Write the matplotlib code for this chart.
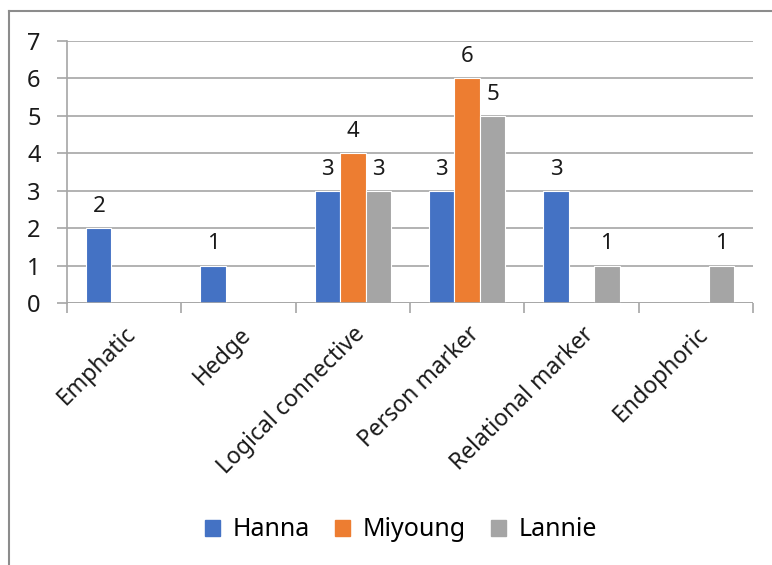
import matplotlib
matplotlib.use("Agg")
import matplotlib.pyplot as plt
import numpy as np
from matplotlib.lines import Line2D

plt.rcParams['font.family'] = ['Noto Sans', 'DejaVu Sans']

categories = ["Emphatic", "Hedge", "Logical connective", "Person marker",
              "Relational marker", "Endophoric"]
series_names = ["Hanna", "Miyoung", "Lannie"]
hanna = [2, 1, 3, 3, 3, 0]
miyoung = [0, 0, 4, 6, 0, 0]
lannie = [0, 0, 3, 5, 1, 1]
colors = ["#4472C4", "#ED7D31", "#A5A5A5"]

fig = plt.figure(figsize=(7.72, 5.65), dpi=100)
W, H = 772, 565
ax = fig.add_axes([67 / W, 1 - 303 / H, (753 - 67) / W, (303 - 41) / H])

x = np.arange(len(categories))
bw = 1 / 4.5
data = [hanna, miyoung, lannie]
for i, (vals, name, c) in enumerate(zip(data, series_names, colors)):
    pos = x + (i - 1) * bw
    ax.bar(pos, vals, width=bw, color=c, edgecolor='white', linewidth=0.8,
           label=name, zorder=3)
    for p, v in zip(pos, vals):
        if v > 0:
            ax.annotate(str(v), (p, v), xytext=(0, 8), textcoords='offset points',
                        ha='center', va='bottom', fontsize=16, color='#1a1a1a')

ax.set_xlim(-0.5, len(categories) - 0.5)
ax.set_ylim(0, 7)
ax.set_yticks(range(0, 8))
ax.yaxis.grid(True, color='#a6a6a6', linewidth=1.2, zorder=0)
ax.set_axisbelow(True)
for s in ['top', 'right', 'bottom']:
    ax.spines[s].set_visible(False)
ax.spines['left'].set_color('#a6a6a6')
ax.spines['left'].set_linewidth(1.2)
ax.axhline(0, color='#a6a6a6', linewidth=1.2, zorder=4)

ax.tick_params(axis='y', length=7, width=1.2, color='#a6a6a6', labelsize=17,
               pad=12, labelcolor='#1a1a1a')
ax.set_xticks(x)
ax.set_xticklabels(categories, rotation=45, ha='right', rotation_mode='anchor',
                   fontsize=16.5, color='#1a1a1a')
ax.tick_params(axis='x', length=0, pad=14)
# category boundary ticks
ax.set_xticks(np.arange(len(categories) + 1) - 0.5, minor=True)
ax.tick_params(axis='x', which='minor', length=7, width=1.2, color='#a6a6a6')

handles = [plt.Rectangle((0, 0), 1, 1, color=c) for c in colors]
fig.legend(handles, series_names, loc='center', bbox_to_anchor=(401 / W, 1 - 530 / H),
           ncol=3, frameon=False, fontsize=18, handlelength=0.6, handleheight=0.6,
           columnspacing=1.0, handletextpad=0.5)

# outer frame lines (left and top)
fig.add_artist(Line2D([9 / W, 9 / W], [0, 1 - 11 / H], transform=fig.transFigure,
                      color='#8c8c8c', linewidth=1.5))
fig.add_artist(Line2D([9 / W, 1], [1 - 11 / H, 1 - 11 / H], transform=fig.transFigure,
                      color='#8c8c8c', linewidth=1.5))

fig.savefig("out.png", dpi=100)
